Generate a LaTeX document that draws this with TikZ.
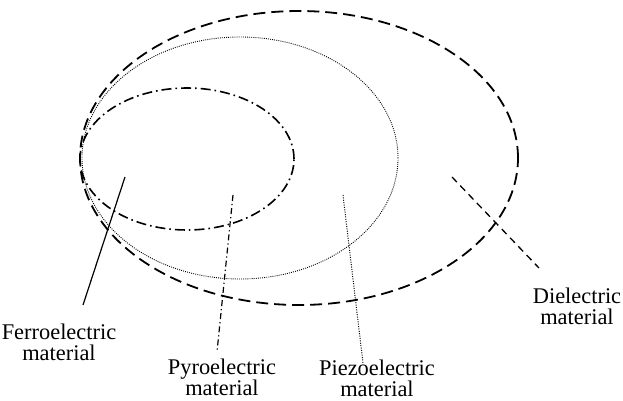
\documentclass[tikz,border=0pt]{standalone}
\usepackage{fontspec}
\setmainfont{Liberation Serif}
\usepackage{tikz}
\usetikzlibrary{shapes.geometric, positioning}

\begin{document}
\begin{tikzpicture}[x=0.5pt, y=-0.5pt,
    set/.style={ellipse, draw, inner sep=0pt, outer sep=0pt},
    lbl/.style={align=center, inner sep=0pt, font=\fontsize{11.2}{10.6}\selectfont},
    dielline/.style={line width=0.9pt, dash pattern=on 6pt off 3pt},
    piezoline/.style={line width=0.45pt, dash pattern=on 0.45pt off 0.6pt},
    pyroline/.style={line width=0.8pt, dash pattern=on 5pt off 2pt on 0.8pt off 2pt}
]
\useasboundingbox (0,0) rectangle (623,401);

% nested material classes
\node[set, dielline,  minimum width=219pt, minimum height=147pt] (diel)  at (299,158) {};
\node[set, piezoline, minimum width=158pt, minimum height=121pt] (piezo) at (240,158) {};
\node[set, pyroline,  minimum width=107pt, minimum height=71pt]  (pyro)  at (187,159) {};

% labels
\node[lbl] (ferrolbl) at (59,342)  {Ferroelectric\\material};
\node[lbl] (pyrolbl)  at (222,377) {Pyroelectric\\material};
\node[lbl] (piezolbl) at (377,378) {Piezoelectric\\material};
\node[lbl] (diellbl)  at (577,306) {Dielectric\\material};

% leader ends
\coordinate (ferrotip)  at (125,177);
\coordinate (ferrofoot) at (83,305);
\coordinate (pyrotip)   at (233,195);
\coordinate (pyrofoot)  at (217,352);
\coordinate (piezotip)  at (343,195);
\coordinate (piezofoot) at (363,363);
\coordinate (dieltip)   at (452,177);
\coordinate (dielfoot)  at (539,268);

\draw[line width=0.6pt] (ferrotip) -- (ferrofoot);
\draw[line width=0.6pt, dash pattern=on 3pt off 1.5pt on 0.6pt off 1.5pt] (pyrotip) -- (pyrofoot);
\draw[line width=0.5pt, dash pattern=on 0.5pt off 0.7pt] (piezotip) -- (piezofoot);
\draw[line width=0.65pt, dash pattern=on 3.5pt off 2.5pt] (dieltip) -- (dielfoot);
\end{tikzpicture}
\end{document}
